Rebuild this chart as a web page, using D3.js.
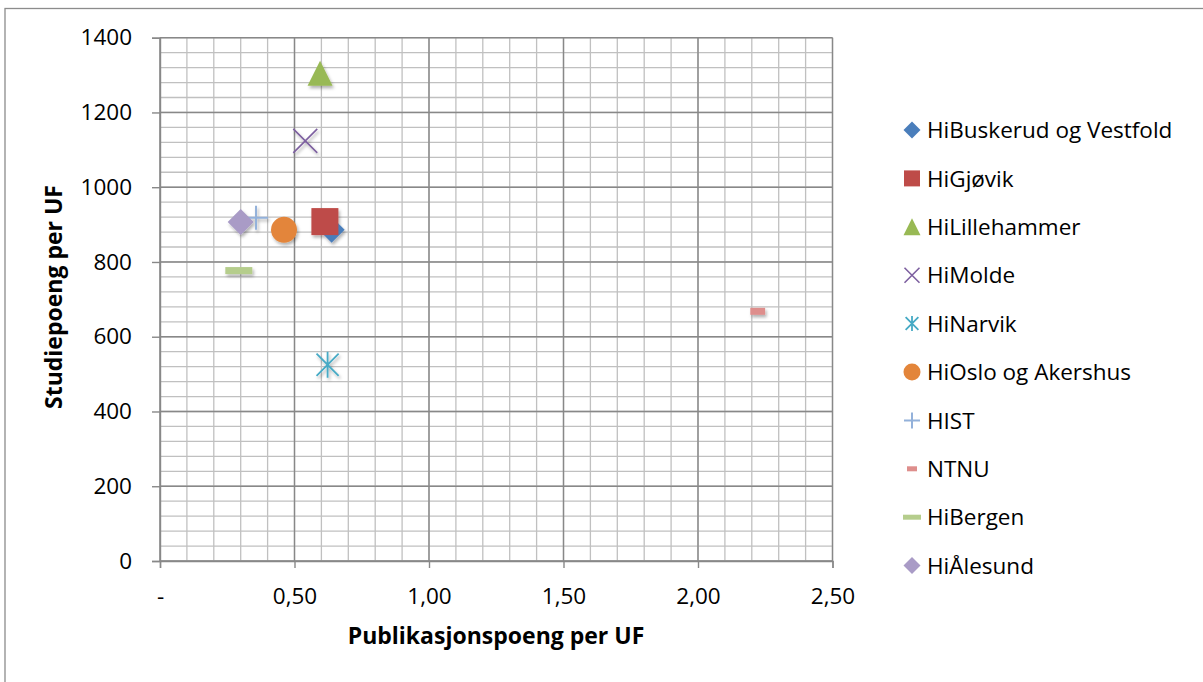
<!DOCTYPE html>
<html>

<head>
  <meta charset="utf-8">
  <title>Studiepoeng og publikasjonspoeng per UF</title>
  <script src="https://cdn.jsdelivr.net/npm/d3@7"></script>
  <style>
    body { margin: 0; background: #fff; }
    text { font-family: "Open Sans", sans-serif; fill: #000; }
  </style>
</head>

<body>
  <script type="text/javascript">
    // data
    var schools = ["HiBuskerud og Vestfold", "HiGjøvik", "HiLillehammer", "HiMolde", "HiNarvik",
      "HiOslo og Akershus", "HIST", "NTNU", "HiBergen", "HiÅlesund"];
    var pubPoints = [0.638, 0.613, 0.595, 0.54, 0.623, 0.461, 0.357, 2.222, 0.293, 0.30];
    var studyPoints = [886, 908, 1305, 1124, 525, 886, 918, 668, 777, 907];
    var markers = ["diamond", "square", "triangle", "x", "star", "circle", "plus", "dashShort", "dash", "diamond"];
    var colors = ["#4A7EBB", "#BE4B48", "#98B954", "#7D60A0", "#46AAC5",
      "#E3853A", "#93B1DA", "#DE8E8C", "#B5CD8C", "#A99BC6"];
    var xTicks = [0, 0.5, 1, 1.5, 2, 2.5];
    var yTicks = [0, 200, 400, 600, 800, 1000, 1200, 1400];

    //Width and height
    var w = 1203;
    var h = 682;
    var plot = { left: 160, right: 832.5, top: 37.7, bottom: 561 };

    var x = d3.scaleLinear().domain([0, 2.5]).range([plot.left, plot.right]);
    var y = d3.scaleLinear().domain([0, 1400]).range([plot.bottom, plot.top]);

    var svg = d3.select("body")
      .append("svg")
      .attr("width", w)
      .attr("height", h);

    // drop shadow like the spreadsheet markers
    var filter = svg.append("defs").append("filter")
      .attr("id", "shadow")
      .attr("x", "-50%").attr("y", "-50%")
      .attr("width", "200%").attr("height", "200%");
    filter.append("feDropShadow")
      .attr("dx", 1.5).attr("dy", 2.5)
      .attr("stdDeviation", 1.8)
      .attr("flood-color", "#000")
      .attr("flood-opacity", 0.3);

    // chart border (only top and left fall inside the picture)
    svg.append("rect")
      .attr("x", 5).attr("y", 8.5)
      .attr("width", w + 10).attr("height", h + 10)
      .attr("fill", "none")
      .attr("stroke", "#8c8c8c")
      .attr("stroke-width", 1.3);

    // gridlines
    var grid = svg.append("g");
    var minorX = d3.range(0, 26).map(function(i) { return i / 10; });
    var minorY = d3.range(0, 36).map(function(i) { return i * 40; });

    grid.selectAll(".vminor")
      .data(minorX)
      .enter().append("line")
      .attr("x1", function(d) { return x(d); })
      .attr("x2", function(d) { return x(d); })
      .attr("y1", plot.top).attr("y2", plot.bottom)
      .attr("stroke", "#c0c0c0").attr("stroke-width", 1.3);

    grid.selectAll(".hminor")
      .data(minorY)
      .enter().append("line")
      .attr("y1", function(d) { return y(d); })
      .attr("y2", function(d) { return y(d); })
      .attr("x1", plot.left).attr("x2", plot.right)
      .attr("stroke", "#c0c0c0").attr("stroke-width", 1.3);

    grid.selectAll(".vmajor")
      .data(xTicks)
      .enter().append("line")
      .attr("x1", function(d) { return x(d); })
      .attr("x2", function(d) { return x(d); })
      .attr("y1", plot.top).attr("y2", plot.bottom)
      .attr("stroke", "#888").attr("stroke-width", 1.4);

    grid.selectAll(".hmajor")
      .data(yTicks)
      .enter().append("line")
      .attr("y1", function(d) { return y(d); })
      .attr("y2", function(d) { return y(d); })
      .attr("x1", plot.left).attr("x2", plot.right)
      .attr("stroke", "#888").attr("stroke-width", 1.4);

    // axes
    var xAxis = d3.axisBottom(x)
      .tickValues(xTicks)
      .tickSize(7)
      .tickPadding(20)
      .tickFormat(function(d) { return d === 0 ? "-" : d3.format(".2f")(d).replace(".", ","); });

    var yAxis = d3.axisLeft(y)
      .tickValues(yTicks)
      .tickSize(8)
      .tickPadding(20)
      .tickFormat(d3.format("d"));

    function styleAxis(g) {
      g.select(".domain").attr("stroke", "#888").attr("stroke-width", 1.4);
      g.selectAll(".tick line").attr("stroke", "#888").attr("stroke-width", 1.4);
      g.selectAll(".tick text")
        .style("font-family", "'Open Sans', sans-serif")
        .style("font-size", "22.5px")
        .attr("fill", "#000");
    }

    svg.append("g")
      .attr("transform", "translate(0," + plot.bottom + ")")
      .call(xAxis)
      .call(styleAxis);

    svg.append("g")
      .attr("transform", "translate(" + plot.left + ",0)")
      .call(yAxis)
      .call(styleAxis);

    // axis titles
    svg.append("text")
      .attr("x", 496).attr("y", 644)
      .attr("text-anchor", "middle")
      .style("font-size", "23px")
      .style("font-weight", "bold")
      .text("Publikasjonspoeng per UF");

    svg.append("text")
      .attr("transform", "translate(62,297) rotate(-90)")
      .attr("text-anchor", "middle")
      .style("font-size", "23px")
      .style("font-weight", "bold")
      .text("Studiepoeng per UF");

    // marker drawing, s = full size in px
    function drawMarker(g, type, color, s) {
      var r = s / 2;
      if (type === "diamond") {
        g.append("path")
          .attr("d", "M0," + (-r) + "L" + r + ",0L0," + r + "L" + (-r) + ",0Z")
          .attr("fill", color);
      } else if (type === "square") {
        g.append("rect")
          .attr("x", -r).attr("y", -r).attr("width", s).attr("height", s)
          .attr("fill", color);
      } else if (type === "triangle") {
        g.append("path")
          .attr("d", "M0," + (-r) + "L" + r + "," + r + "L" + (-r) + "," + r + "Z")
          .attr("fill", color);
      } else if (type === "circle") {
        g.append("circle").attr("r", r).attr("fill", color);
      } else if (type === "x") {
        g.append("path")
          .attr("d", "M" + (-r) + "," + (-r) + "L" + r + "," + r + "M" + r + "," + (-r) + "L" + (-r) + "," + r)
          .attr("stroke", color).attr("stroke-width", 1.6).attr("fill", "none");
      } else if (type === "plus") {
        g.append("path")
          .attr("d", "M" + (-r) + ",0L" + r + ",0M0," + (-r) + "L0," + r)
          .attr("stroke", color).attr("stroke-width", 2).attr("fill", "none");
      } else if (type === "star") {
        g.append("path")
          .attr("d", "M0," + (-r) + "L0," + r +
            "M" + (-r * 0.85) + "," + (-r * 0.85) + "L" + (r * 0.85) + "," + (r * 0.85) +
            "M" + (r * 0.85) + "," + (-r * 0.85) + "L" + (-r * 0.85) + "," + (r * 0.85))
          .attr("stroke", color).attr("stroke-width", 1.8).attr("fill", "none");
      } else if (type === "dash") {
        g.append("rect")
          .attr("x", -r).attr("y", -3.5).attr("width", s).attr("height", 7)
          .attr("fill", color);
      } else if (type === "dashShort") {
        g.append("rect")
          .attr("x", -r * 0.55).attr("y", -3.5).attr("width", s * 0.55).attr("height", 7)
          .attr("fill", color);
      }
    }

    var markerSize = { diamond: 26, square: 27, triangle: 25, circle: 26, x: 24, plus: 24, star: 26, dash: 27, dashShort: 27 };

    // points
    var pointsG = svg.append("g").attr("filter", "url(#shadow)");
    schools.forEach(function(name, i) {
      var g = pointsG.append("g")
        .attr("transform", "translate(" + x(pubPoints[i]) + "," + y(studyPoints[i]) + ")");
      drawMarker(g, markers[i], colors[i], markerSize[markers[i]]);
    });

    // legend
    var legendSize = { diamond: 17, square: 16, triangle: 17, circle: 17, x: 15, plus: 16, star: 15 };
    var legend = svg.append("g");
    schools.forEach(function(name, i) {
      var ly = 130 + i * 48.4;
      var g = legend.append("g").attr("transform", "translate(912," + ly + ")");
      var mk = markers[i];
      if (mk === "dash") {
        g.append("rect").attr("x", -9).attr("y", -2.5).attr("width", 18).attr("height", 5).attr("fill", colors[i]);
      } else if (mk === "dashShort") {
        g.append("rect").attr("x", -5).attr("y", -2.5).attr("width", 10).attr("height", 5).attr("fill", colors[i]);
      } else {
        drawMarker(g, mk, colors[i], legendSize[mk]);
      }
      legend.append("text")
        .attr("x", 927).attr("y", ly + 8.2)
        .style("font-size", "22.5px")
        .text(name);
    });
  </script>
</body>

</html>
